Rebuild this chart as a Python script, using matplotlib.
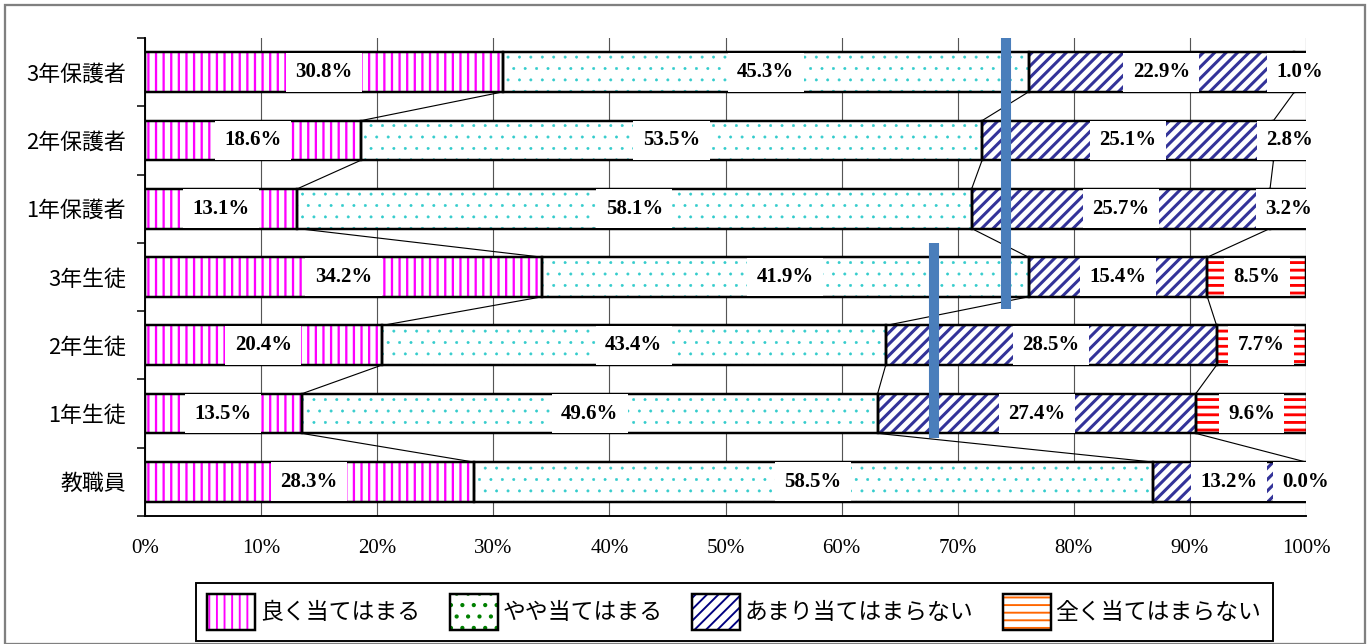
import numpy as np
import matplotlib
matplotlib.use('Agg')
import matplotlib.pyplot as plt
from matplotlib.patches import Patch, Rectangle
from matplotlib.legend_handler import HandlerTuple

plt.rcParams['font.family'] = ['Noto Sans CJK JP', 'DejaVu Sans']

categories = ['3年保護者', '2年保護者', '1年保護者', '3年生徒', '2年生徒', '1年生徒', '教職員']
series_names = ['良く当てはまる', 'やや当てはまる', 'あまり当てはまらない', '全く当てはまらない']
yoku = [30.8, 18.6, 13.1, 34.2, 20.4, 13.5, 28.3]
yaya = [45.3, 53.5, 58.1, 41.9, 43.4, 49.6, 58.5]
amari = [22.9, 25.1, 25.7, 15.4, 28.5, 27.4, 13.2]
mattaku = [1.0, 2.8, 3.2, 8.5, 7.7, 9.6, 0.0]
xticks = list(range(0, 101, 10))

# thick blue marker lines drawn over the chart (x in %, span in category units)
marker_x = [74.2, 68.0]
marker_from = [-0.5, 2.5]
marker_to = [3.47, 5.36]

# hatch, bar colour, legend colour, hatch linewidth
styles = [
    ('|||', '#ff00ff', '#ff00ff', 1.2),
    ('..', '#33cccc', '#008000', 0.3),
    ('////', '#333399', '#000080', 1.6),
    ('---', '#ff0000', '#ff6600', 1.5),
]

series = [yoku, yaya, amari, mattaku]
n = len(categories)
y = np.arange(n)
h = 0.58

fig = plt.figure(figsize=(10, 644 / 137), dpi=137)
ax = fig.add_axes([145 / 1370, 1 - 516 / 644, (1306 - 145) / 1370, (516 - 38) / 644])

ax.set_xlim(0, 100)
ax.set_ylim(n - 0.5, -0.5)
for t in xticks:
    ax.axvline(t, color='#555555', lw=0.6, zorder=0)

left = np.zeros(n)
hatch_handles = []
for vals, (hatch, col, lcol, hlw) in zip(series, styles):
    vals = np.array(vals)
    with plt.rc_context({'hatch.linewidth': hlw}):
        bars = ax.barh(y, vals, left=left, height=h, color='white', edgecolor=col,
                       hatch=hatch, linewidth=0, zorder=2)
        for b in bars:
            if hasattr(b, 'set_hatch_linewidth'):
                b.set_hatch_linewidth(hlw)
        hp = Patch(facecolor='white', edgecolor=lcol, hatch=hatch, linewidth=0)
        if hasattr(hp, 'set_hatch_linewidth'):
            hp.set_hatch_linewidth(hlw)
    ax.barh(y, vals, left=left, height=h, fill=False, edgecolor='black', linewidth=1.3, zorder=3)
    hatch_handles.append((hp, Patch(fill=False, edgecolor='black', linewidth=1.3)))
    for i in range(n):
        ax.text(left[i] + vals[i] / 2, y[i], f'{vals[i]:.1f}%', ha='center', va='center',
                fontsize=11, fontweight='bold', family=['Liberation Serif'], zorder=5,
                bbox=dict(boxstyle='square,pad=0.45', facecolor='white', edgecolor='none'))
    left = left + vals

# connecting lines between bars
cum = np.cumsum([yoku, yaya, amari], axis=0)
for k in range(3):
    for i in range(n - 1):
        ax.plot([cum[k, i], cum[k, i + 1]], [i + h / 2, i + 1 - h / 2],
                color='black', lw=0.6, zorder=3)

for mx, m0, m1 in zip(marker_x, marker_from, marker_to):
    ax.plot([mx, mx], [m0, m1], color='#4a7ebb', lw=5.3, solid_capstyle='butt', zorder=6)

ax.set_xticks(xticks)
ax.set_xticklabels([f'{t}%' for t in xticks], family=['Liberation Serif'], fontsize=11)
ax.tick_params(axis='x', length=0, pad=12)
ax.set_yticks(y)
ax.set_yticklabels(categories, fontsize=11.5)
ax.set_yticks(np.arange(-0.5, n, 1), minor=True)
ax.tick_params(axis='y', which='major', length=0, pad=10)
ax.tick_params(axis='y', which='minor', length=4, width=0.8)
for s in ['top', 'right']:
    ax.spines[s].set_visible(False)
ax.spines['left'].set_linewidth(1.0)
ax.spines['bottom'].set_linewidth(1.0)

fig.legend(hatch_handles, series_names, loc='upper left',
           bbox_to_anchor=(196 / 1370, 1 - 583 / 644),
           ncol=4, frameon=True, fancybox=False, edgecolor='black',
           framealpha=1, fontsize=12, handlelength=2.1, handleheight=2.0,
           handletextpad=0.2, borderpad=0.5, borderaxespad=0, columnspacing=1.3,
           handler_map={tuple: HandlerTuple(ndivide=1, pad=0)})

fig.patches.append(Rectangle((5 / 1370, 0), 1360 / 1370, 1 - 5 / 644, transform=fig.transFigure,
                             fill=False, edgecolor='#808080', linewidth=1.2))

fig.savefig('out.png', dpi=137)
